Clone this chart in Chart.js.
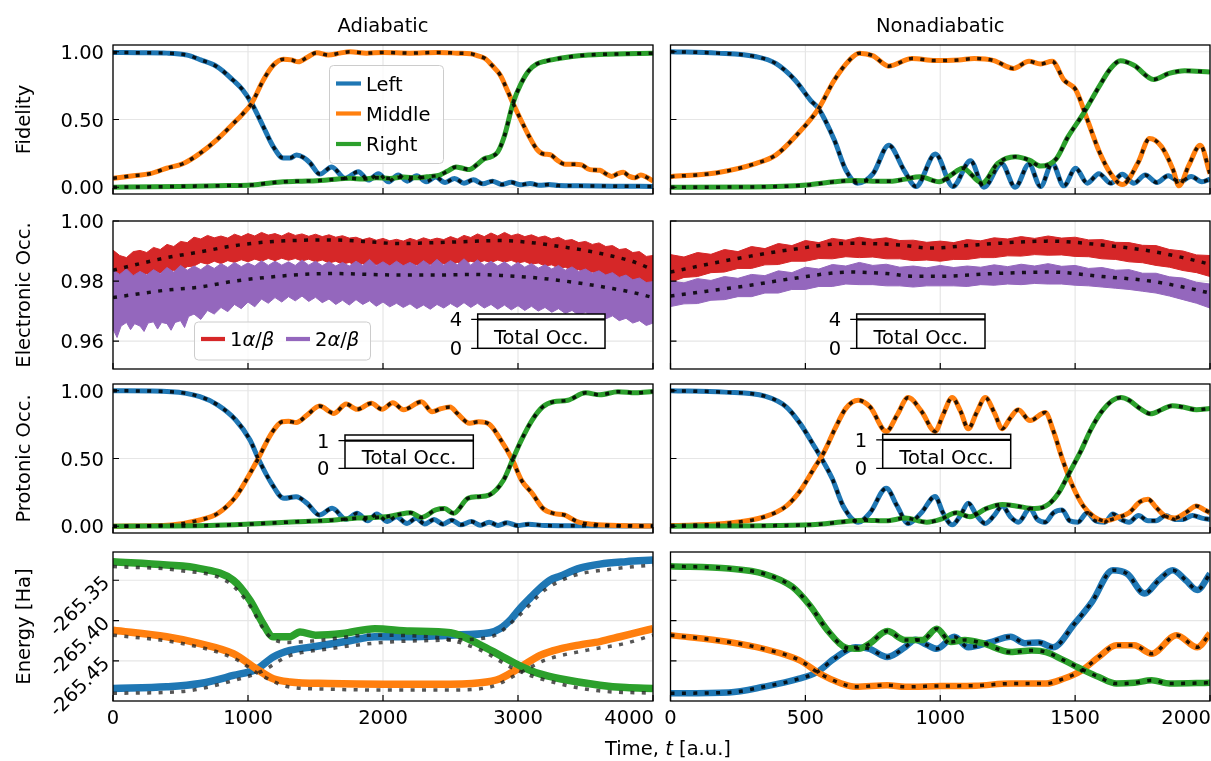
<!DOCTYPE html>
<html>
<head>
<meta charset="utf-8">
<script src="https://cdn.jsdelivr.net/npm/chart.js@4.4.1/dist/chart.umd.min.js"></script>
<style>
html, body { margin: 0; padding: 0; background: #fff; }
#fig { position: relative; width: 1211px; height: 761px; overflow: hidden; }
#fig canvas { position: absolute; left: 0; top: 0; }
</style>
</head>
<body>
<div id="fig"></div>
<script>
// ---------- data: [time, value] pairs ----------
const colTitles = ['Adiabatic', 'Nonadiabatic'];
const rowTitles = ['Fidelity', 'Electronic Occ.', 'Protonic Occ.', 'Energy [Ha]'];
const xTicksAd = [0, 1000, 2000, 3000, 4000];
const xTicksNa = [0, 500, 1000, 1500, 2000];
const yTicksFrac = [0, 0.5, 1];
const yLabelsFrac = ['0.00', '0.50', '1.00'];
const yTicksElec = [0.96, 0.98, 1.0];
const yLabelsElec = ['0.96', '0.98', '1.00'];
const yTicksEn = [-265.45, -265.40, -265.35];
const yLabelsEn = ['-265.45', '-265.40', '-265.35'];

// Fidelity, adiabatic
const fidAdLeft = [[0,0.995],[200,0.993],[400,0.99],[550,0.975],[650,0.94],[770,0.89],[890,0.79],[960,0.72],[1027,0.62],[1112,0.45],[1187,0.30],[1262,0.215],[1310,0.215],[1360,0.237],[1410,0.22],[1459,0.18],[1533,0.097],[1620,0.15],[1719,0.066],[1817,0.115],[1892,0.053],[1966,0.10],[2040,0.04],[2113,0.09],[2180,0.045],[2250,0.085],[2320,0.04],[2390,0.075],[2460,0.035],[2530,0.065],[2600,0.03],[2670,0.055],[2740,0.025],[2810,0.045],[2880,0.02],[2950,0.036],[3020,0.018],[3090,0.028],[3160,0.014],[3230,0.02],[3300,0.012],[3450,0.01],[3700,0.008],[4000,0.006]];
const fidAdMid = [[0,0.066],[150,0.085],[274,0.10],[397,0.14],[521,0.175],[644,0.25],[768,0.35],[891,0.47],[960,0.54],[1027,0.62],[1113,0.79],[1187,0.90],[1262,0.945],[1320,0.94],[1373,0.926],[1440,0.96],[1509,0.993],[1595,0.976],[1680,0.99],[1756,1.0],[1879,0.99],[2000,0.995],[2200,0.99],[2400,0.995],[2550,0.99],[2650,0.985],[2704,0.97],[2756,0.95],[2807,0.90],[2867,0.83],[2919,0.72],[2963,0.62],[3020,0.5],[3080,0.38],[3140,0.28],[3190,0.245],[3240,0.24],[3290,0.2],[3348,0.17],[3420,0.17],[3470,0.165],[3533,0.13],[3607,0.125],[3650,0.10],[3694,0.08],[3740,0.10],[3780,0.11],[3825,0.08],[3867,0.07],[3910,0.09],[3950,0.075],[4000,0.045]];
const fidAdRight = [[0,0.0],[300,0.003],[600,0.008],[850,0.012],[1022,0.016],[1150,0.03],[1262,0.04],[1400,0.045],[1509,0.048],[1600,0.055],[1756,0.066],[1850,0.06],[1950,0.07],[2050,0.065],[2150,0.075],[2250,0.07],[2350,0.08],[2420,0.09],[2480,0.12],[2540,0.15],[2590,0.14],[2640,0.13],[2700,0.17],[2750,0.21],[2800,0.225],[2850,0.26],[2900,0.38],[2963,0.62],[3020,0.76],[3080,0.86],[3140,0.91],[3200,0.93],[3300,0.95],[3400,0.965],[3500,0.975],[3600,0.98],[3800,0.985],[4000,0.99]];

// Fidelity, nonadiabatic
const fidNaLeft = [[0,1.0],[173,0.99],[318,0.963],[390,0.914],[462,0.79],[520,0.64],[549,0.58],[607,0.35],[650,0.127],[693,0.03],[751,0.10],[809,0.31],[866,0.125],[910,0.005],[982,0.245],[1047,0.005],[1112,0.196],[1162,0.0],[1227,0.176],[1278,0.0],[1329,0.17],[1372,0.005],[1415,0.176],[1458,0.01],[1502,0.14],[1545,0.03],[1588,0.10],[1632,0.03],[1675,0.095],[1718,0.03],[1760,0.09],[1803,0.035],[1845,0.085],[1888,0.04],[1930,0.08],[1970,0.04],[2000,0.06]];
const fidNaMid = [[0,0.078],[173,0.107],[318,0.176],[390,0.237],[462,0.373],[549,0.58],[607,0.79],[664,0.94],[700,0.99],[751,0.97],[809,0.894],[895,0.95],[982,0.935],[1069,0.94],[1126,0.95],[1199,0.935],[1271,0.877],[1329,0.93],[1372,0.91],[1415,0.93],[1459,0.79],[1502,0.72],[1545,0.5],[1588,0.27],[1632,0.10],[1675,0.02],[1733,0.18],[1776,0.36],[1820,0.30],[1863,0.13],[1885,0.01],[1921,0.16],[1964,0.31],[2000,0.10]];
const fidNaRight = [[0,0.0],[300,0.002],[505,0.016],[607,0.04],[679,0.05],[750,0.045],[823,0.045],[870,0.06],[924,0.078],[996,0.04],[1040,0.09],[1083,0.14],[1155,0.03],[1213,0.176],[1278,0.225],[1330,0.2],[1372,0.156],[1430,0.21],[1473,0.37],[1531,0.545],[1588,0.74],[1632,0.877],[1668,0.933],[1718,0.90],[1791,0.796],[1848,0.84],[1906,0.86],[2000,0.85]];

// Electronic occupations (noisy bands: upper / lower edges, plus dotted means)
const redAdHi = [[0,0.9903],[50,0.9885],[100,0.9878],[150,0.9898],[200,0.9902],[250,0.9895],[300,0.9912],[350,0.9905],[400,0.9922],[450,0.9915],[500,0.9932],[550,0.9928],[600,0.9946],[650,0.9940],[700,0.9952],[750,0.9944],[800,0.9950],[850,0.9943],[900,0.9956],[950,0.9948],[1000,0.9958],[1050,0.9950],[1100,0.9962],[1150,0.9953],[1200,0.9958],[1250,0.9950],[1300,0.9961],[1350,0.9952],[1400,0.9957],[1450,0.9949],[1500,0.9956],[1550,0.9948],[1600,0.9954],[1650,0.9946],[1700,0.9951],[1750,0.9943],[1800,0.9946],[1850,0.9938],[1900,0.9944],[1950,0.9936],[2000,0.9942],[2050,0.9934],[2100,0.9939],[2150,0.9933],[2200,0.9942],[2250,0.9935],[2300,0.9944],[2350,0.9937],[2400,0.9943],[2450,0.9938],[2500,0.9948],[2550,0.9940],[2600,0.9952],[2650,0.9945],[2700,0.9957],[2750,0.9948],[2800,0.9960],[2850,0.9950],[2900,0.9962],[2950,0.9951],[3000,0.9957],[3050,0.9948],[3100,0.9954],[3150,0.9945],[3200,0.9950],[3250,0.9940],[3300,0.9946],[3350,0.9935],[3400,0.9938],[3450,0.9928],[3500,0.9932],[3550,0.9922],[3600,0.9927],[3650,0.9915],[3700,0.9918],[3750,0.9905],[3800,0.9908],[3850,0.9895],[3900,0.9898],[3950,0.9882],[4000,0.9885]];
const redAdLo = [[0,0.9800],[50,0.9812],[100,0.9806],[150,0.9818],[200,0.9812],[250,0.9824],[300,0.9816],[350,0.9828],[400,0.9822],[450,0.9836],[500,0.9832],[550,0.9848],[600,0.9850],[650,0.9862],[700,0.9856],[750,0.9866],[800,0.9858],[850,0.9868],[900,0.9862],[950,0.9871],[1000,0.9864],[1050,0.9873],[1100,0.9866],[1150,0.9875],[1200,0.9868],[1250,0.9876],[1300,0.9869],[1350,0.9875],[1400,0.9867],[1450,0.9873],[1500,0.9864],[1550,0.9870],[1600,0.9860],[1650,0.9866],[1700,0.9856],[1750,0.9862],[1800,0.9852],[1850,0.9858],[1900,0.9849],[1950,0.9855],[2000,0.9846],[2050,0.9852],[2100,0.9844],[2150,0.9851],[2200,0.9846],[2250,0.9854],[2300,0.9848],[2350,0.9856],[2400,0.9850],[2450,0.9858],[2500,0.9853],[2550,0.9862],[2600,0.9857],[2650,0.9866],[2700,0.9860],[2750,0.9868],[2800,0.9862],[2850,0.9870],[2900,0.9863],[2950,0.9869],[3000,0.9860],[3050,0.9865],[3100,0.9856],[3150,0.9860],[3200,0.9850],[3250,0.9854],[3300,0.9843],[3350,0.9846],[3400,0.9835],[3450,0.9838],[3500,0.9826],[3550,0.9830],[3600,0.9817],[3650,0.9820],[3700,0.9807],[3750,0.9810],[3800,0.9796],[3850,0.9798],[3900,0.9785],[3950,0.9788],[4000,0.9775]];
const purpAdHi = [[0,0.9836],[50,0.9822],[100,0.9840],[150,0.9818],[200,0.9832],[250,0.9820],[300,0.9838],[350,0.9824],[400,0.9845],[450,0.9830],[500,0.9852],[550,0.9836],[600,0.9850],[650,0.9838],[700,0.9854],[750,0.9842],[800,0.9858],[850,0.9845],[900,0.9862],[950,0.9848],[1000,0.9860],[1050,0.9850],[1100,0.9868],[1150,0.9852],[1200,0.9866],[1250,0.9853],[1300,0.9864],[1350,0.9852],[1400,0.9870],[1450,0.9853],[1500,0.9866],[1550,0.9851],[1600,0.9864],[1650,0.9850],[1700,0.9862],[1750,0.9850],[1800,0.9866],[1850,0.9852],[1900,0.9872],[1950,0.9851],[2000,0.9864],[2050,0.9850],[2100,0.9866],[2150,0.9851],[2200,0.9862],[2250,0.9850],[2300,0.9868],[2350,0.9852],[2400,0.9872],[2450,0.9853],[2500,0.9868],[2550,0.9854],[2600,0.9874],[2650,0.9853],[2700,0.9870],[2750,0.9852],[2800,0.9866],[2850,0.9850],[2900,0.9864],[2950,0.9848],[3000,0.9862],[3050,0.9846],[3100,0.9858],[3150,0.9843],[3200,0.9854],[3250,0.9840],[3300,0.9852],[3350,0.9836],[3400,0.9847],[3450,0.9832],[3500,0.9840],[3550,0.9826],[3600,0.9834],[3650,0.9820],[3700,0.9828],[3750,0.9812],[3800,0.9820],[3850,0.9804],[3900,0.9810],[3950,0.9795],[4000,0.9798]];
const purpAdLo = [[0,0.9640],[30,0.9612],[60,0.9650],[100,0.9662],[130,0.9638],[160,0.9658],[200,0.9650],[230,0.9632],[260,0.9660],[300,0.9664],[330,0.9640],[360,0.9662],[400,0.9658],[430,0.9636],[460,0.9662],[500,0.9668],[530,0.9645],[560,0.9682],[600,0.9690],[650,0.9672],[700,0.9702],[750,0.9690],[800,0.9712],[850,0.9698],[900,0.9722],[950,0.9708],[1000,0.9730],[1050,0.9714],[1100,0.9740],[1150,0.9726],[1200,0.9745],[1250,0.9730],[1300,0.9748],[1350,0.9734],[1400,0.9750],[1450,0.9732],[1500,0.9746],[1550,0.9728],[1600,0.9740],[1650,0.9722],[1700,0.9736],[1750,0.9720],[1800,0.9738],[1850,0.9722],[1900,0.9734],[1950,0.9716],[2000,0.9730],[2050,0.9714],[2100,0.9726],[2150,0.9712],[2200,0.9724],[2250,0.9708],[2300,0.9720],[2350,0.9706],[2400,0.9722],[2450,0.9710],[2500,0.9725],[2550,0.9712],[2600,0.9728],[2650,0.9712],[2700,0.9726],[2750,0.9710],[2800,0.9722],[2850,0.9706],[2900,0.9720],[2950,0.9704],[3000,0.9718],[3050,0.9702],[3100,0.9716],[3150,0.9700],[3200,0.9712],[3250,0.9696],[3300,0.9708],[3350,0.9692],[3400,0.9702],[3450,0.9686],[3500,0.9696],[3550,0.9680],[3600,0.9690],[3650,0.9674],[3700,0.9684],[3750,0.9668],[3800,0.9676],[3850,0.9660],[3900,0.9668],[3950,0.9652],[4000,0.9660]];
const redAdMean = [[0,0.9836],[200,0.9858],[400,0.9878],[644,0.9897],[900,0.9918],[1138,0.9930],[1400,0.9936],[1632,0.9937],[1850,0.9932],[2126,0.9925],[2400,0.9928],[2650,0.9932],[2870,0.9935],[3100,0.9928],[3311,0.9915],[3500,0.9902],[3680,0.9885],[3850,0.9865],[4000,0.9838]];
const purpAdMean = [[0,0.9745],[200,0.9758],[400,0.9770],[644,0.9780],[900,0.9800],[1138,0.9812],[1400,0.9822],[1632,0.9825],[1900,0.9822],[2126,0.9820],[2400,0.9820],[2650,0.9822],[2900,0.9818],[3100,0.9812],[3311,0.9802],[3500,0.9790],[3700,0.9775],[3850,0.9762],[4000,0.9745]];

const redNaHi = [[0,0.9888],[50,0.9880],[100,0.9895],[150,0.9889],[200,0.9905],[250,0.9898],[300,0.9915],[350,0.9908],[400,0.9925],[450,0.9918],[500,0.9935],[550,0.9928],[600,0.9942],[650,0.9936],[700,0.9946],[750,0.9939],[800,0.9944],[850,0.9935],[900,0.9936],[950,0.9929],[1000,0.9933],[1050,0.9928],[1100,0.9938],[1150,0.9934],[1200,0.9944],[1250,0.9940],[1300,0.9948],[1350,0.9942],[1400,0.9950],[1450,0.9943],[1500,0.9946],[1550,0.9937],[1600,0.9938],[1650,0.9929],[1700,0.9928],[1750,0.9919],[1800,0.9918],[1850,0.9905],[1900,0.9900],[1950,0.9887],[2000,0.9885]];
const redNaLo = [[0,0.9796],[50,0.9812],[100,0.9815],[150,0.9828],[200,0.9830],[250,0.9842],[300,0.9842],[350,0.9854],[400,0.9855],[450,0.9866],[500,0.9866],[550,0.9875],[600,0.9874],[650,0.9881],[700,0.9878],[750,0.9880],[800,0.9874],[850,0.9874],[900,0.9868],[950,0.9870],[1000,0.9866],[1050,0.9872],[1100,0.9872],[1150,0.9878],[1200,0.9878],[1250,0.9884],[1300,0.9883],[1350,0.9888],[1400,0.9886],[1450,0.9887],[1500,0.9882],[1550,0.9881],[1600,0.9874],[1650,0.9872],[1700,0.9864],[1750,0.9861],[1800,0.9852],[1850,0.9846],[1900,0.9835],[1950,0.9828],[2000,0.9815]];
const purpNaHi = [[0,0.9800],[50,0.9794],[100,0.9808],[150,0.9802],[200,0.9815],[250,0.9809],[300,0.9822],[350,0.9818],[400,0.9834],[450,0.9828],[500,0.9846],[550,0.9840],[600,0.9855],[650,0.9850],[700,0.9862],[750,0.9852],[800,0.9856],[850,0.9846],[900,0.9850],[950,0.9844],[1000,0.9852],[1050,0.9845],[1100,0.9850],[1150,0.9846],[1200,0.9854],[1250,0.9848],[1300,0.9856],[1350,0.9850],[1400,0.9858],[1450,0.9849],[1500,0.9852],[1550,0.9842],[1600,0.9845],[1650,0.9836],[1700,0.9838],[1750,0.9826],[1800,0.9826],[1850,0.9814],[1900,0.9810],[1950,0.9796],[2000,0.9790]];
const purpNaLo = [[0,0.9715],[50,0.9724],[100,0.9725],[150,0.9736],[200,0.9738],[250,0.9748],[300,0.9748],[350,0.9760],[400,0.9760],[450,0.9772],[500,0.9772],[550,0.9782],[600,0.9782],[650,0.9790],[700,0.9788],[750,0.9788],[800,0.9784],[850,0.9784],[900,0.9780],[950,0.9784],[1000,0.9784],[1050,0.9784],[1100,0.9782],[1150,0.9788],[1200,0.9786],[1250,0.9790],[1300,0.9788],[1350,0.9792],[1400,0.9790],[1450,0.9790],[1500,0.9786],[1550,0.9784],[1600,0.9780],[1650,0.9776],[1700,0.9772],[1750,0.9766],[1800,0.9760],[1850,0.9750],[1900,0.9738],[1950,0.9726],[2000,0.9710]];
const redNaMean = [[0,0.9830],[150,0.9858],[296,0.9883],[450,0.9905],[667,0.9926],[850,0.9920],[963,0.9910],[1100,0.9918],[1200,0.9925],[1407,0.9933],[1600,0.9920],[1778,0.9900],[1900,0.9878],[2000,0.9856]];
const purpNaMean = [[0,0.9750],[150,0.9768],[296,0.9786],[450,0.9808],[667,0.9830],[800,0.9825],[900,0.9816],[1000,0.9816],[1200,0.9825],[1407,0.9830],[1600,0.9815],[1778,0.9800],[1900,0.9780],[2000,0.9760]];

// Total occupation insets
const totElecAd = [[0,4],[4000,4]];
const totElecNa = [[0,4],[2000,4]];
const totProtAd = [[0,1],[4000,1]];
const totProtNa = [[0,1],[2000,1]];

// Protonic occupations
const protAdLeft = [[0,1.0],[430,0.993],[644,0.956],[777,0.894],[909,0.784],[1015,0.636],[1081,0.489],[1174,0.317],[1267,0.206],[1357,0.218],[1437,0.169],[1530,0.083],[1623,0.132],[1727,0.051],[1808,0.095],[1887,0.04],[1954,0.09],[2033,0.035],[2099,0.07],[2178,0.021],[2245,0.058],[2310,0.017],[2378,0.05],[2444,0.015],[2510,0.045],[2576,0.01],[2655,0.035],[2721,0.008],[2786,0.03],[2852,0.006],[2918,0.025],[2998,0.005],[3077,0.015],[3200,0.005],[3500,0.003],[4000,0.002]];
const protAdMid = [[0,0.0],[430,0.01],[644,0.046],[777,0.095],[909,0.218],[1015,0.39],[1081,0.51],[1174,0.686],[1252,0.771],[1300,0.775],[1357,0.765],[1437,0.82],[1530,0.887],[1637,0.833],[1727,0.902],[1808,0.863],[1914,0.907],[1993,0.863],[2073,0.912],[2152,0.86],[2285,0.919],[2364,0.845],[2430,0.868],[2497,0.88],[2550,0.833],[2642,0.76],[2708,0.771],[2786,0.754],[2865,0.649],[2959,0.489],[3025,0.341],[3105,0.243],[3184,0.132],[3263,0.095],[3343,0.083],[3449,0.03],[3555,0.015],[3740,0.005],[4000,0.002]];
const protAdRight = [[0,0.0],[714,0.005],[1015,0.016],[1357,0.033],[1623,0.045],[1808,0.06],[2020,0.07],[2099,0.083],[2205,0.1],[2285,0.065],[2390,0.12],[2456,0.13],[2523,0.095],[2629,0.206],[2708,0.218],[2786,0.23],[2893,0.341],[2959,0.489],[3025,0.636],[3105,0.784],[3184,0.882],[3263,0.919],[3369,0.93],[3501,0.985],[3607,0.97],[3740,0.993],[3873,0.985],[4000,0.995]];
const protNaLeft = [[0,1.0],[200,0.99],[350,0.96],[430,0.88],[480,0.76],[530,0.6],[560,0.5],[600,0.35],[640,0.15],[696,0.03],[740,0.10],[800,0.28],[840,0.15],[881,0.02],[930,0.10],[981,0.22],[1010,0.10],[1044,0.01],[1075,0.08],[1104,0.17],[1135,0.08],[1167,0.02],[1200,0.08],[1230,0.15],[1260,0.07],[1289,0.03],[1333,0.13],[1360,0.05],[1389,0.03],[1420,0.10],[1452,0.12],[1480,0.04],[1510,0.03],[1545,0.10],[1575,0.04],[1610,0.03],[1640,0.09],[1670,0.05],[1700,0.03],[1735,0.08],[1770,0.04],[1800,0.04],[1835,0.08],[1870,0.05],[1900,0.05],[1935,0.08],[1970,0.06],[2000,0.05]];
const protNaMid = [[0,0.005],[200,0.02],[350,0.07],[430,0.15],[480,0.26],[530,0.42],[570,0.55],[610,0.72],[650,0.87],[696,0.93],[740,0.88],[800,0.70],[840,0.82],[881,0.95],[930,0.85],[981,0.70],[1010,0.82],[1044,0.95],[1075,0.85],[1104,0.72],[1135,0.84],[1167,0.95],[1200,0.84],[1230,0.72],[1260,0.80],[1289,0.86],[1333,0.78],[1389,0.84],[1420,0.70],[1452,0.50],[1490,0.30],[1530,0.15],[1570,0.07],[1610,0.04],[1650,0.06],[1700,0.10],[1740,0.18],[1770,0.20],[1800,0.14],[1830,0.08],[1870,0.06],[1910,0.10],[1950,0.15],[1980,0.12],[2000,0.10]];
const protNaRight = [[0,0.0],[400,0.005],[550,0.015],[650,0.035],[720,0.045],[800,0.04],[870,0.06],[950,0.03],[1000,0.05],[1060,0.10],[1110,0.07],[1170,0.13],[1230,0.16],[1280,0.15],[1350,0.13],[1400,0.16],[1440,0.25],[1480,0.40],[1520,0.55],[1560,0.72],[1600,0.85],[1640,0.93],[1670,0.95],[1700,0.93],[1740,0.87],[1780,0.83],[1820,0.86],[1860,0.89],[1900,0.88],[1950,0.86],[2000,0.87]];

// Energies
const enAdLeft = [[0,-265.484],[397,-265.482],[644,-265.478],[891,-265.468],[1064,-265.46],[1187,-265.445],[1311,-265.437],[1500,-265.432],[1755,-265.425],[1940,-265.42],[2200,-265.42],[2500,-265.418],[2790,-265.415],[2867,-265.41],[2950,-265.398],[3015,-265.385],[3090,-265.372],[3163,-265.36],[3237,-265.35],[3311,-265.345],[3459,-265.335],[3607,-265.33],[3800,-265.327],[4000,-265.325]];
const enAdMid = [[0,-265.412],[397,-265.42],[644,-265.4285],[891,-265.441],[1064,-265.46],[1187,-265.472],[1311,-265.476],[1600,-265.478],[2000,-265.479],[2400,-265.479],[2720,-265.477],[2867,-265.472],[3015,-265.458],[3163,-265.443],[3311,-265.435],[3459,-265.43],[3607,-265.426],[3756,-265.42],[3900,-265.414],[4000,-265.41]];
const enAdRight = [[0,-265.327],[397,-265.331],[644,-265.3355],[891,-265.35],[1015,-265.375],[1112,-265.404],[1187,-265.42],[1311,-265.42],[1385,-265.414],[1500,-265.418],[1700,-265.416],[1940,-265.41],[2200,-265.413],[2500,-265.415],[2720,-265.43],[2867,-265.443],[3015,-265.456],[3163,-265.466],[3311,-265.472],[3607,-265.48],[3800,-265.483],[4000,-265.484]];
const enAdLeftRef = [[0,-265.49],[500,-265.488],[900,-265.474],[1100,-265.463],[1300,-265.444],[1600,-265.435],[2000,-265.427],[2500,-265.424],[2800,-265.42],[3000,-265.395],[3200,-265.362],[3400,-265.345],[3700,-265.336],[4000,-265.331]];
const enAdMidRef = [[0,-265.418],[500,-265.428],[900,-265.447],[1100,-265.468],[1300,-265.482],[1600,-265.485],[2000,-265.486],[2500,-265.486],[2800,-265.482],[3000,-265.466],[3200,-265.449],[3500,-265.437],[3800,-265.428],[4000,-265.418]];
const enAdRightRef = [[0,-265.333],[500,-265.338],[850,-265.352],[1000,-265.378],[1150,-265.418],[1300,-265.427],[1500,-265.425],[1900,-265.418],[2400,-265.421],[2700,-265.435],[3000,-265.462],[3300,-265.478],[3600,-265.487],[4000,-265.49]];
const enNaLeft = [[0,-265.49],[216,-265.489],[346,-265.482],[477,-265.472],[542,-265.464],[608,-265.447],[686,-265.433],[738,-265.435],[804,-265.445],[869,-265.433],[908,-265.4236],[950,-265.43],[987,-265.435],[1052,-265.42],[1104,-265.433],[1183,-265.427],[1261,-265.42],[1314,-265.428],[1366,-265.427],[1418,-265.433],[1497,-265.404],[1562,-265.377],[1640,-265.3376],[1693,-265.342],[1758,-265.3665],[1810,-265.35],[1862,-265.3376],[1910,-265.35],[1953,-265.362],[2000,-265.342]];
const enNaMid = [[0,-265.418],[216,-265.4265],[346,-265.435],[477,-265.449],[555,-265.466],[634,-265.478],[686,-265.482],[804,-265.48],[869,-265.482],[1000,-265.481],[1131,-265.4806],[1261,-265.478],[1392,-265.478],[1457,-265.472],[1523,-265.462],[1588,-265.445],[1653,-265.4306],[1719,-265.4306],[1784,-265.441],[1876,-265.418],[1953,-265.433],[2000,-265.416]];
const enNaRight = [[0,-265.3326],[216,-265.3355],[346,-265.342],[451,-265.358],[516,-265.381],[582,-265.412],[647,-265.433],[699,-265.435],[738,-265.4285],[804,-265.413],[869,-265.424],[934,-265.424],[987,-265.41],[1039,-265.4265],[1091,-265.424],[1157,-265.428],[1261,-265.439],[1340,-265.437],[1392,-265.439],[1457,-265.449],[1523,-265.46],[1588,-265.47],[1653,-265.478],[1720,-265.477],[1784,-265.474],[1850,-265.478],[2000,-265.477]];

// ---------- drawing ----------
const W = 1211, H = 761;
const FONT = '"DejaVu Sans", "Liberation Sans", sans-serif';
const FS = 19.5;
const BLUE = '#1f77b4', ORANGE = '#ff7f0e', GREEN = '#2ca02c', RED = '#d62728', PURPLE = '#9467bd';
const DOT = 'rgba(0,0,0,0.85)';
const DOTDASH = [4, 7.4];

const colX = [[113, 653], [670.5, 1210]];
const rowY = [[45, 194], [221, 369], [384, 533], [552, 701]];
const fig = document.getElementById('fig');

function font(italic) { return (italic ? 'italic ' : '') + FS + 'px ' + FONT; }

function rich(ctx, parts, x, y, align) {
  let w = 0;
  parts.forEach(p => { ctx.font = font(p[1]); w += ctx.measureText(p[0]).width; });
  let cx = align === 'center' ? x - w / 2 : (align === 'right' ? x - w : x);
  ctx.textAlign = 'left';
  parts.forEach(p => { ctx.font = font(p[1]); ctx.fillText(p[0], cx, y); cx += ctx.measureText(p[0]).width; });
}

function ln(pts, color, width, dash, extra) {
  return Object.assign({
    data: pts.map(p => ({ x: p[0], y: p[1] })),
    borderColor: color, borderWidth: width, borderDash: dash || [],
    pointRadius: 0, fill: false, cubicInterpolationMode: 'monotone', clip: 0
  }, extra || {});
}

function band(lo, hi, color) {
  return [
    ln(lo, color, 1, [], { cubicInterpolationMode: 'default', tension: 0 }),
    ln(hi, color, 1, [], { cubicInterpolationMode: 'default', tension: 0, fill: '-1', backgroundColor: color })
  ];
}

function panelPlugin(cfg) {
  return {
    id: 'panel',
    beforeDatasetsDraw(chart) {
      const { ctx, chartArea: a, scales: { x, y } } = chart;
      ctx.save();
      if (cfg.inset) {
        ctx.fillStyle = '#fff';
        ctx.fillRect(a.left, a.top, a.right - a.left, a.bottom - a.top);
      } else {
        ctx.strokeStyle = '#e6e6e6';
        ctx.lineWidth = 1.2;
        ctx.beginPath();
        cfg.xTicks.forEach(v => { const px = x.getPixelForValue(v); ctx.moveTo(px, a.top); ctx.lineTo(px, a.bottom); });
        cfg.yTicks.forEach(v => { const py = y.getPixelForValue(v); ctx.moveTo(a.left, py); ctx.lineTo(a.right, py); });
        ctx.stroke();
      }
      ctx.restore();
    },
    afterDraw(chart) {
      const { ctx, chartArea: a, scales: { x, y } } = chart;
      ctx.save();
      ctx.strokeStyle = '#000';
      ctx.lineWidth = cfg.inset ? 1.5 : 1.3;
      ctx.strokeRect(a.left, a.top, a.right - a.left, a.bottom - a.top);
      ctx.lineWidth = 1.2;
      ctx.beginPath();
      if (cfg.inset) {
        cfg.yTicks.forEach(v => { const py = y.getPixelForValue(v); ctx.moveTo(a.left, py); ctx.lineTo(a.left - 6.5, py); });
      } else {
        cfg.xTicks.forEach(v => { const px = x.getPixelForValue(v); ctx.moveTo(px, a.bottom); ctx.lineTo(px, a.bottom - 6); });
        cfg.yTicks.forEach(v => { const py = y.getPixelForValue(v); ctx.moveTo(a.left, py); ctx.lineTo(a.left + 6, py); });
      }
      ctx.stroke();

      ctx.fillStyle = '#000';
      ctx.font = font(false);
      ctx.textBaseline = 'alphabetic';
      if (cfg.yLabels) {
        cfg.yTicks.forEach((v, i) => {
          const py = y.getPixelForValue(v);
          if (cfg.yRot) {
            ctx.save();
            ctx.translate(a.left - 6, py);
            ctx.rotate(-Math.PI / 4);
            ctx.textAlign = 'right';
            ctx.textBaseline = 'middle';
            ctx.fillText(cfg.yLabels[i], 0, 0);
            ctx.restore();
          } else {
            ctx.textAlign = 'right';
            ctx.fillText(cfg.yLabels[i], a.left - (cfg.inset ? 15.5 : 9), py + 7);
          }
        });
      }
      if (cfg.xLabels) {
        cfg.xTicks.forEach((v, i) => {
          const px = x.getPixelForValue(v);
          ctx.textAlign = i === cfg.xTicks.length - 1 ? 'right' : 'center';
          ctx.fillText(String(v), px + (i === cfg.xTicks.length - 1 ? 1 : 0), a.bottom + 23.3);
        });
      }
      if (cfg.inset) {
        ctx.textAlign = 'center';
        ctx.fillText('Total Occ.', (a.left + a.right) / 2, a.bottom - 4.3);
      }
      if (cfg.title) {
        ctx.textAlign = 'center';
        ctx.fillText(cfg.title, (a.left + a.right) / 2, 32.3);
      }
      if (cfg.yTitle) {
        ctx.save();
        ctx.translate(30, (a.top + a.bottom) / 2);
        ctx.rotate(-Math.PI / 2);
        ctx.textAlign = 'center';
        ctx.fillText(cfg.yTitle, 0, 0);
        ctx.restore();
      }
      if (cfg.extra) cfg.extra(ctx);
      ctx.restore();
    }
  };
}

function roundBox(ctx, x, y, w, h, r) {
  ctx.beginPath();
  ctx.moveTo(x + r, y);
  ctx.arcTo(x + w, y, x + w, y + h, r);
  ctx.arcTo(x + w, y + h, x, y + h, r);
  ctx.arcTo(x, y + h, x, y, r);
  ctx.arcTo(x, y, x + w, y, r);
  ctx.closePath();
  ctx.fillStyle = 'rgba(255,255,255,0.8)';
  ctx.fill();
  ctx.strokeStyle = '#cccccc';
  ctx.lineWidth = 1;
  ctx.stroke();
}

function legendFid(ctx) {
  roundBox(ctx, 329.5, 65.5, 114, 98, 4);
  [['Left', BLUE, 83.5], ['Middle', ORANGE, 113.5], ['Right', GREEN, 144]].forEach(e => {
    ctx.strokeStyle = e[1]; ctx.lineWidth = 4.2; ctx.setLineDash([]);
    ctx.beginPath(); ctx.moveTo(336, e[2]); ctx.lineTo(361, e[2]); ctx.stroke();
    ctx.fillStyle = '#000'; ctx.font = font(false); ctx.textAlign = 'left';
    ctx.fillText(e[0], 366, e[2] + 7);
  });
}

function legendElec(ctx) {
  roundBox(ctx, 194.5, 322, 176, 38, 4);
  [[RED, 201, '1', 230], [PURPLE, 286, '2', 315]].forEach(e => {
    ctx.strokeStyle = e[0]; ctx.lineWidth = 4.2;
    ctx.beginPath(); ctx.moveTo(e[1], 339); ctx.lineTo(e[1] + 24, 339); ctx.stroke();
    ctx.fillStyle = '#000';
    rich(ctx, [[e[2], false], ['\u03b1', true], ['/', false], ['\u03b2', true]], e[3], 346, 'left');
  });
}

function makeChart(box, xr, yr, datasets, cfg) {
  const c = document.createElement('canvas');
  c.width = W; c.height = H;
  c.style.width = W + 'px'; c.style.height = H + 'px';
  fig.appendChild(c);
  datasets.forEach((d, i) => { d.order = -i; });
  return new Chart(c, {
    type: 'line',
    data: { datasets },
    options: {
      responsive: false, animation: false, devicePixelRatio: 1, events: [],
      layout: { padding: { left: box[0], top: box[1], right: W - box[2], bottom: H - box[3] } },
      scales: {
        x: { type: 'linear', display: false, min: xr[0], max: xr[1] },
        y: { type: 'linear', display: false, min: yr[0], max: yr[1] }
      },
      plugins: { legend: { display: false }, tooltip: { enabled: false } }
    },
    plugins: [panelPlugin(cfg)]
  });
}

function three(l, m, r, w) {
  return [ln(l, BLUE, w), ln(m, ORANGE, w), ln(r, GREEN, w)];
}
function dots(l, m, r, color) {
  return [ln(l, color, 3.5, DOTDASH), ln(m, color, 3.5, DOTDASH), ln(r, color, 3.5, DOTDASH)];
}
function box(c, r) { return [colX[c][0], rowY[r][0], colX[c][1], rowY[r][1]]; }

const xrAd = [0, 4000], xrNa = [0, 2000];
const yrFrac = [-0.05, 1.05], yrElec = [0.9507, 1.0], yrEn = [-265.4996, -265.315];

// Row 1: fidelity
makeChart(box(0, 0), xrAd, yrFrac,
  three(fidAdLeft, fidAdMid, fidAdRight, 5).concat(dots(fidAdLeft, fidAdMid, fidAdRight, DOT)),
  { xTicks: xTicksAd, yTicks: yTicksFrac, yLabels: yLabelsFrac, title: colTitles[0], yTitle: rowTitles[0], extra: legendFid });
makeChart(box(1, 0), xrNa, yrFrac,
  three(fidNaLeft, fidNaMid, fidNaRight, 5).concat(dots(fidNaLeft, fidNaMid, fidNaRight, DOT)),
  { xTicks: xTicksNa, yTicks: yTicksFrac, title: colTitles[1] });

// Row 2: electronic occupation
makeChart(box(0, 1), xrAd, yrElec,
  band(redAdLo, redAdHi, RED).concat(band(purpAdLo, purpAdHi, PURPLE),
    [ln(redAdMean, DOT, 3.5, DOTDASH), ln(purpAdMean, DOT, 3.5, DOTDASH)]),
  { xTicks: xTicksAd, yTicks: yTicksElec, yLabels: yLabelsElec, yTitle: rowTitles[1], extra: legendElec });
makeChart(box(1, 1), xrNa, yrElec,
  band(redNaLo, redNaHi, RED).concat(band(purpNaLo, purpNaHi, PURPLE),
    [ln(redNaMean, DOT, 3.5, DOTDASH), ln(purpNaMean, DOT, 3.5, DOTDASH)]),
  { xTicks: xTicksNa, yTicks: yTicksElec });

// Row 3: protonic occupation
makeChart(box(0, 2), xrAd, yrFrac,
  three(protAdLeft, protAdMid, protAdRight, 5).concat(dots(protAdLeft, protAdMid, protAdRight, DOT)),
  { xTicks: xTicksAd, yTicks: yTicksFrac, yLabels: yLabelsFrac, yTitle: rowTitles[2] });
makeChart(box(1, 2), xrNa, yrFrac,
  three(protNaLeft, protNaMid, protNaRight, 5).concat(dots(protNaLeft, protNaMid, protNaRight, DOT)),
  { xTicks: xTicksNa, yTicks: yTicksFrac });

// Row 4: energy
makeChart(box(0, 3), xrAd, yrEn,
  three(enAdLeft, enAdMid, enAdRight, 7.5).concat(dots(enAdLeftRef, enAdMidRef, enAdRightRef, 'rgba(30,30,30,0.75)')),
  { xTicks: xTicksAd, yTicks: yTicksEn, yLabels: yLabelsEn, yRot: true, xLabels: true, yTitle: rowTitles[3] });
makeChart(box(1, 3), xrNa, yrEn,
  three(enNaLeft, enNaMid, enNaRight, 6.5).concat(dots(enNaLeft, enNaMid, enNaRight, DOT)),
  { xTicks: xTicksNa, yTicks: yTicksEn, xLabels: true,
    extra: ctx => { ctx.fillStyle = '#000'; rich(ctx, [['Time, ', false], ['t', true], [' [a.u.]', false]], 668, 755, 'center'); } });

// Insets: total occupation
const blk = c => [ln(c, '#000', 2.2, [], { cubicInterpolationMode: 'default', tension: 0 })];
makeChart([477.7, 314, 605, 348.3], xrAd, [0, 4.75], blk(totElecAd), { inset: true, yTicks: [0, 4], yLabels: ['0', '4'] });
makeChart([856.7, 314, 985, 348.3], xrNa, [0, 4.75], blk(totElecNa), { inset: true, yTicks: [0, 4], yLabels: ['0', '4'] });
makeChart([345, 435, 473.3, 468.3], xrAd, [0, 1.2], blk(totProtAd), { inset: true, yTicks: [0, 1], yLabels: ['0', '1'] });
makeChart([882.7, 434.3, 1010.7, 468.3], xrNa, [0, 1.2], blk(totProtNa), { inset: true, yTicks: [0, 1], yLabels: ['0', '1'] });
</script>
</body>
</html>
